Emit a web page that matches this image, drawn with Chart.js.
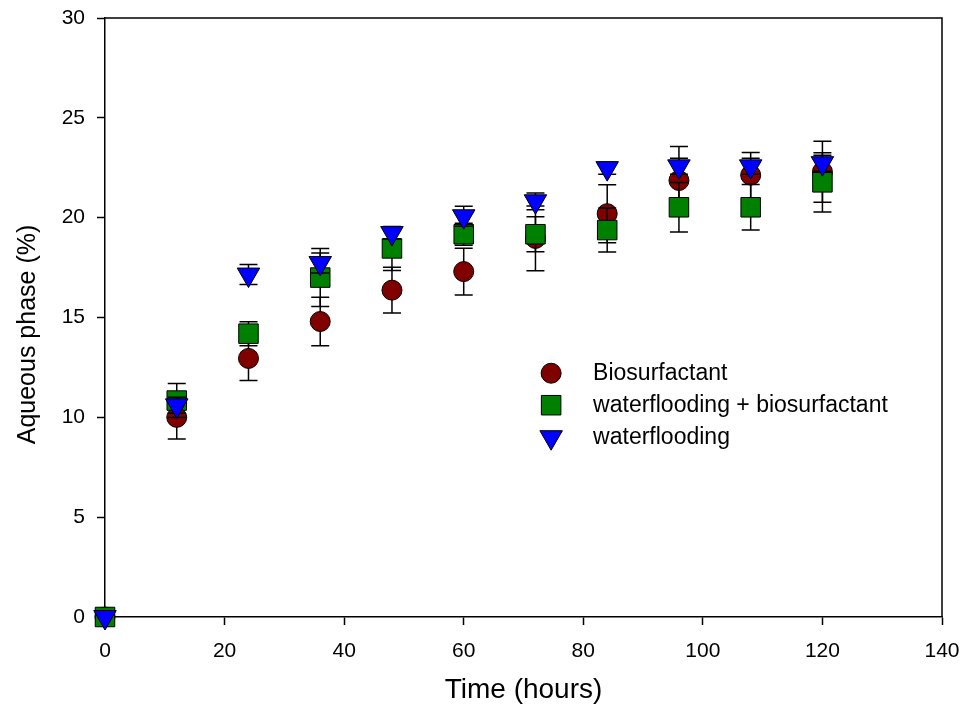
<!DOCTYPE html>
<html>
<head>
<meta charset="utf-8">
<script src="https://cdn.jsdelivr.net/npm/chart.js@4.4.1/dist/chart.umd.min.js"></script>
<style>
  html, body { margin: 0; padding: 0; background: #fff; }
  #wrap { width: 966px; height: 715px; }
</style>
</head>
<body>
<div id="wrap"><canvas id="aqueousChart"></canvas></div>
<script>
// sampling times (hours)
const hours = [0, 12, 24, 36, 48, 60, 72, 84, 96, 108, 120];

// aqueous phase (%) and standard deviations per treatment
const bioValues = [0, 10.0, 12.95, 14.8, 16.37, 17.3, 18.96, 20.2, 21.86, 22.13, 22.3];
const bioErrors = [0, 1.08, 1.1, 1.22, 1.15, 1.17, 1.62, 1.45, 1.7, 1.14, 1.53];

const wfBioValues = [0, 10.84, 14.19, 17.0, 18.46, 19.17, 19.17, 19.38, 20.52, 20.52, 21.77];
const wfBioErrors = [0, 0.85, 0.6, 1.45, 1.1, 0.55, 0.88, 1.1, 1.24, 1.14, 1.48];

const wfValues = [0, 10.6, 17.15, 17.73, 19.23, 20.07, 20.82, 22.48, 22.57, 22.57, 22.73];
const wfErrors = [0, 0.4, 0.5, 0.5, 0.3, 0.5, 0.42, 0.3, 0.4, 0.4, 0.4];

const seriesLabels = ['Biosurfactant', 'waterflooding + biosurfactant', 'waterflooding'];
const yTitle = 'Aqueous phase (%)';
const xTitle = 'Time (hours)';

const FONT = "'Liberation Sans', Arial, sans-serif";

function toPoints(values) {
    return hours.map((h, i) => ({ x: h, y: values[i] }));
}

// vertical error bars with caps, drawn just before each dataset's symbols
const errorBars = {
    id: 'errorBars',
    beforeDatasetDraw(chart, args) {
        const ds = chart.data.datasets[args.index];
        if (!ds.errors) return;
        const { ctx, scales: { x, y } } = chart;
        ctx.save();
        ctx.strokeStyle = '#000';
        ctx.lineWidth = 1.5;
        ds.data.forEach((p, i) => {
            const e = ds.errors[i];
            if (!e) return;
            const px = x.getPixelForValue(p.x);
            const top = y.getPixelForValue(p.y + e);
            const bot = y.getPixelForValue(p.y - e);
            ctx.beginPath();
            ctx.moveTo(px, top); ctx.lineTo(px, bot);
            ctx.moveTo(px - 9, top); ctx.lineTo(px + 9, top);
            ctx.moveTo(px - 9, bot); ctx.lineTo(px + 9, bot);
            ctx.stroke();
        });
        ctx.restore();
    }
};

// top/right frame edges and the rotated y-axis title
const frame = {
    id: 'frame',
    beforeDatasetsDraw(chart) {
        const { ctx, chartArea: a } = chart;
        ctx.save();
        ctx.strokeStyle = '#000';
        ctx.lineWidth = 1.5;
        ctx.beginPath();
        ctx.moveTo(a.left, a.top);
        ctx.lineTo(a.right, a.top);
        ctx.lineTo(a.right, a.bottom);
        ctx.stroke();

        ctx.translate(28, (a.top + a.bottom) / 2 + 17);
        ctx.rotate(-Math.PI / 2);
        ctx.fillStyle = '#000';
        ctx.font = '25px ' + FONT;
        ctx.textAlign = 'center';
        ctx.textBaseline = 'middle';
        ctx.fillText(yTitle, 0, 0);
        ctx.restore();
    }
};

// legend box sitting inside the plot area
const innerLegend = {
    id: 'innerLegend',
    afterDraw(chart) {
        const { ctx, chartArea: a } = chart;
        const symX = a.left + 0.533 * (a.right - a.left);
        const textX = symX + 42;
        let rowY = a.top + 0.593 * (a.bottom - a.top);
        ctx.save();
        chart.data.datasets.forEach(ds => {
            ctx.fillStyle = ds.backgroundColor;
            ctx.strokeStyle = ds.borderColor;
            ctx.lineWidth = ds.borderWidth;
            Chart.helpers.drawPoint(ctx, {
                pointStyle: ds.pointStyle,
                radius: ds.pointRadius,
                rotation: ds.pointRotation || 0,
                borderWidth: ds.borderWidth
            }, symX, rowY);
            ctx.fillStyle = '#000';
            ctx.font = '23px ' + FONT;
            ctx.textAlign = 'left';
            ctx.textBaseline = 'middle';
            ctx.fillText(ds.label, textX, rowY);
            rowY += 32;
        });
        ctx.restore();
    }
};

const ctx = document.getElementById('aqueousChart').getContext('2d');

new Chart(ctx, {
    type: 'scatter',
    data: {
        datasets: [
            {
                label: seriesLabels[0],
                data: toPoints(bioValues),
                errors: bioErrors,
                pointStyle: 'circle',
                pointRadius: 10,
                pointHoverRadius: 10,
                backgroundColor: '#800000',
                borderColor: '#000',
                borderWidth: 1,
                order: 3,
                clip: false
            },
            {
                label: seriesLabels[1],
                data: toPoints(wfBioValues),
                errors: wfBioErrors,
                pointStyle: 'rect',
                pointRadius: 13.8,
                pointHoverRadius: 13.8,
                backgroundColor: '#008000',
                borderColor: '#000',
                borderWidth: 1,
                order: 2,
                clip: false
            },
            {
                label: seriesLabels[2],
                data: toPoints(wfValues),
                errors: wfErrors,
                pointStyle: 'triangle',
                pointRotation: 180,
                pointRadius: 13,
                pointHoverRadius: 13,
                backgroundColor: '#0000ff',
                borderColor: '#000',
                borderWidth: 1,
                order: 1,
                clip: false
            }
        ]
    },
    options: {
        responsive: true,
        maintainAspectRatio: false,
        animation: false,
        events: [],
        layout: { padding: { top: 18, right: 24, bottom: 0, left: 0 } },
        plugins: {
            legend: { display: false },
            tooltip: { enabled: false }
        },
        scales: {
            x: {
                type: 'linear',
                min: 0,
                max: 140,
                afterFit(scale) {
                    scale.height = 98;
                    scale.paddingLeft = 0;
                    scale.paddingRight = 0;
                },
                border: { display: true, color: '#000', width: 1.5 },
                grid: {
                    drawOnChartArea: false,
                    drawTicks: true,
                    tickLength: 8,
                    tickWidth: 1.5,
                    tickColor: '#000'
                },
                ticks: {
                    stepSize: 20,
                    color: '#000',
                    padding: 14,
                    maxRotation: 0,
                    font: { family: FONT, size: 21 }
                },
                title: {
                    display: true,
                    text: xTitle,
                    color: '#000',
                    padding: { top: 0, bottom: 8 },
                    font: { family: FONT, size: 28 }
                }
            },
            y: {
                type: 'linear',
                min: 0,
                max: 30,
                afterFit(scale) {
                    scale.width = 105;
                    scale.paddingTop = 0;
                    scale.paddingBottom = 0;
                },
                border: { display: true, color: '#000', width: 1.5 },
                grid: {
                    drawOnChartArea: false,
                    drawTicks: true,
                    tickLength: 8,
                    tickWidth: 1.5,
                    tickColor: '#000'
                },
                ticks: {
                    stepSize: 5,
                    color: '#000',
                    padding: 12,
                    font: { family: FONT, size: 21 }
                }
            }
        }
    },
    plugins: [errorBars, frame, innerLegend]
});
</script>
</body>
</html>
